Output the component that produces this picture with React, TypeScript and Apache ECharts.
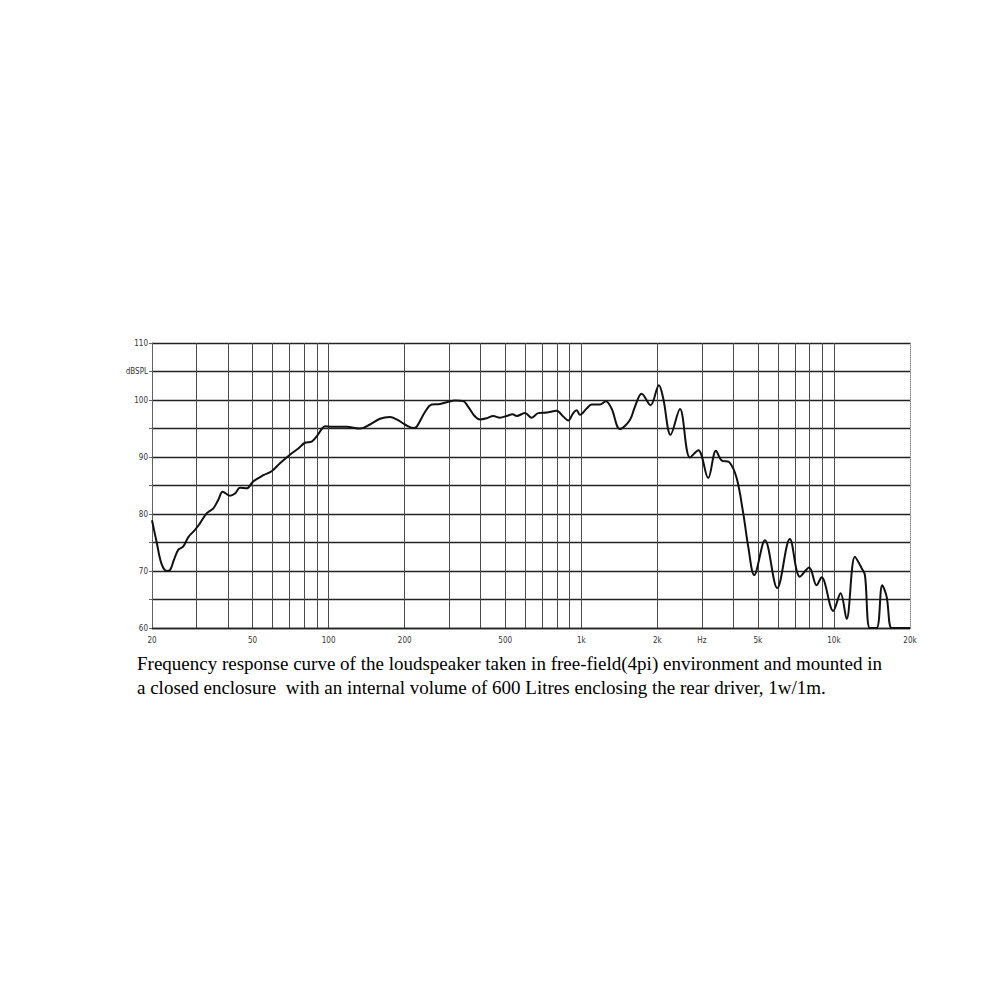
import React, { useEffect, useRef } from "react";
import * as echarts from "echarts";

// Frequency response: [frequency Hz, dB SPL]
const response: [number, number][] = [
  [20, 78.9], [20.9, 74.9], [21.8, 71.3], [22.9, 70.0], [23.6, 70.2], [24.4, 71.9],
  [25.4, 73.7], [26.6, 74.3], [27.9, 76.0], [29.6, 77.2], [31.0, 78.4], [32.9, 80.1],
  [35.0, 81.0], [36.6, 82.5], [38.1, 83.9], [40.7, 83.2], [42.6, 83.6], [44.6, 84.6],
  [47.4, 84.5], [50.3, 85.7], [55.2, 86.8], [59.5, 87.5], [64.2, 88.9], [70.3, 90.4],
  [75.9, 91.5], [80.6, 92.5], [85.7, 92.7], [89.7, 93.6], [93.9, 94.9], [96.7, 95.4],
  [102.8, 95.3], [110.9, 95.3], [117.9, 95.3], [133.1, 95.0], [145.8, 95.7], [159.7, 96.7],
  [174.9, 97.0], [185.9, 96.6], [200.5, 95.7], [216, 95.1], [223, 95.3], [240.7, 97.9],
  [255.8, 99.2], [276, 99.3], [297.7, 99.7], [316.3, 99.9], [341.2, 99.8], [357, 98.8],
  [379.7, 97.1], [397.4, 96.6], [422.2, 96.8], [448.3, 97.2], [476.5, 96.9], [506.7, 97.2],
  [535, 97.5], [554.9, 97.2], [598.6, 97.7], [636.5, 96.9], [675.8, 97.7], [729.5, 97.8],
  [799, 98.1], [848.6, 97.1], [888.2, 96.4], [929.2, 97.7], [958.9, 98.2], [988, 97.4],
  [1050, 98.5], [1099, 99.2], [1185, 99.2], [1252, 99.8], [1318, 98.5], [1422, 94.9],
  [1558, 96.5], [1630, 98.8], [1733, 101.1], [1881, 99.1], [2029, 102.6], [2110, 100.3],
  [2257, 93.9], [2458, 98.4], [2692, 89.9], [2904, 91.2], [3180, 86.3], [3412, 91.1],
  [3594, 89.4], [3851, 89.1], [4120, 86.3], [4376, 80.1], [4578, 74.3], [4836, 69.3],
  [5333, 75.4], [5964, 67.0], [6693, 75.6], [7333, 69.0], [7980, 70.6], [8535, 67.5],
  [8935, 68.9], [9935, 63.0], [10623, 66.1], [11224, 61.6], [12108, 72.5], [12871, 70.5],
  [13262, 69.3], [13873, 60.0], [14758, 60.0], [15525, 67.5], [16163, 65.5], [16913, 60.0],
  [18000, 60.0], [20000, 60.0],
];

// Vertical grid lines (Hz)
const gridFreqs: number[] = [
  20, 30, 40, 50, 60, 70, 80, 90, 100,
  200, 300, 400, 500, 600, 700, 800, 900, 1000,
  2000, 3000, 4000, 5000, 6000, 7000, 8000, 9000, 10000,
];

// Frequency axis labels
const freqLabelValues: number[] = [20, 50, 100, 200, 500, 1000, 2000, 3000, 5000, 10000, 20000];
const freqLabelTexts: string[] = ["20", "50", "100", "200", "500", "1k", "2k", "Hz", "5k", "10k", "20k"];

const captionLines: string[] = [
  "Frequency response curve of the loudspeaker taken in free-field(4pi) environment and mounted in",
  "a closed enclosure  with an internal volume of 600 Litres enclosing the rear driver, 1w/1m.",
];

const labelFont = '"Liberation Sans Narrow", "DejaVu Sans Condensed", "Liberation Sans", sans-serif';

export default function App() {
  const ref = useRef<HTMLDivElement>(null);

  useEffect(() => {
    if (!ref.current) return;
    const chart = echarts.init(ref.current, undefined, { renderer: "svg" });
    const labelFor = (v: number) => {
      const i = freqLabelValues.findIndex((f) => Math.abs(f - v) < 0.5);
      return i >= 0 ? freqLabelTexts[i] : "";
    };
    chart.setOption({
      animation: false,
      backgroundColor: "#fff",
      grid: { left: 152, right: 90, top: 343, bottom: 372, containLabel: false },
      xAxis: {
        type: "log",
        logBase: 10,
        min: 20,
        max: 20000,
        axisLine: { show: true, lineStyle: { color: "#222", width: 1.3 } },
        axisTick: { show: false, customValues: gridFreqs },
        axisLabel: {
          customValues: freqLabelValues,
          formatter: (v: number) => labelFor(v),
          fontFamily: labelFont,
          fontSize: 8,
          color: "#333",
          margin: 8,
          showMinLabel: true,
          showMaxLabel: true,
        },
        splitLine: { show: true, lineStyle: { color: "#4a4a4a", width: 1 } },
      },
      yAxis: [
        {
          type: "value",
          min: 60,
          max: 110,
          interval: 5,
          axisLine: { show: true, lineStyle: { color: "#666", type: "dotted", width: 1 } },
          axisTick: { show: true, length: 3, lineStyle: { color: "#666" } },
          axisLabel: {
            fontFamily: labelFont,
            fontSize: 8,
            color: "#333",
            margin: 4,
            formatter: (v: number) => (v === 105 ? "dBSPL" : v % 10 === 0 ? String(v) : ""),
          },
          splitLine: { show: true, lineStyle: { color: "#222", width: 1.3 } },
        },
        {
          type: "value",
          position: "right",
          min: 60,
          max: 110,
          interval: 5,
          axisLine: { show: true, lineStyle: { color: "#888", type: "dotted", width: 1 } },
          axisTick: { show: false },
          axisLabel: { show: false },
          splitLine: { show: false },
        },
      ],
      graphic: captionLines.map((t, i) => ({
        type: "text",
        left: 137,
        top: 654 + i * 24,
        style: {
          text: t,
          fill: "#000",
          font: '19px "Liberation Serif", "Times New Roman", serif',
        },
      })),
      series: [
        {
          type: "line",
          data: response,
          smooth: 0.35,
          showSymbol: false,
          clip: true,
          lineStyle: { color: "#111", width: 2 },
          silent: true,
        },
      ],
    });
    return () => chart.dispose();
  }, []);

  return (
    <div
      ref={ref}
      style={{ width: 1000, height: 1000, position: "fixed", left: 0, top: 0 }}
    />
  );
}
